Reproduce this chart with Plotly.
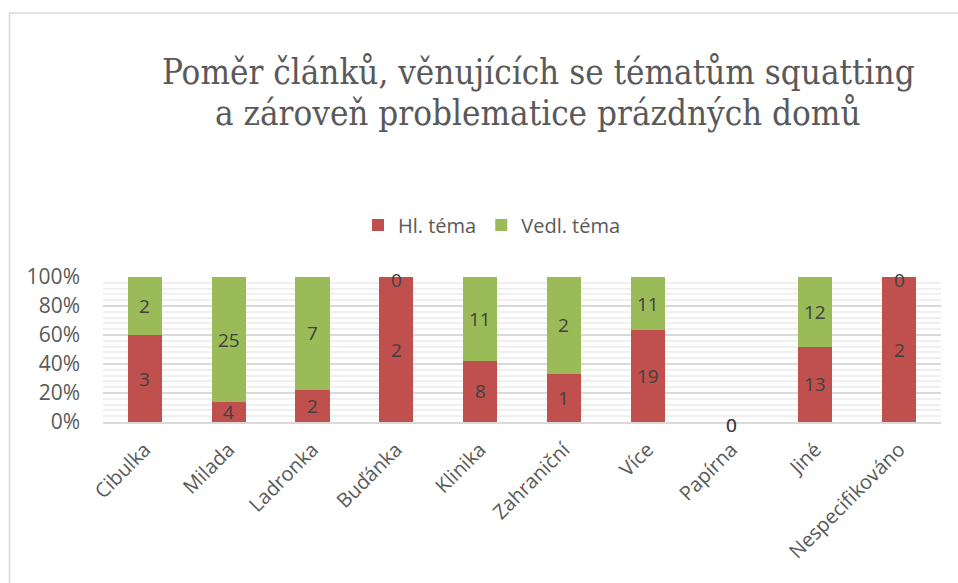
import plotly.graph_objects as go

categories = ["Cibulka", "Milada", "Ladronka", "Buďánka", "Klinika", "Zahraniční",
              "Více", "Papírna", "Jiné", "Nespecifikováno"]
hl_tema = [3, 4, 2, 2, 8, 1, 19, 0, 13, 2]
vedl_tema = [2, 25, 7, 0, 11, 2, 11, 0, 12, 0]
series_names = ["Hl. téma", "Vedl. téma"]
y_ticks = [0, 0.2, 0.4, 0.6, 0.8, 1.0]
y_tick_labels = ["0%", "20%", "40%", "60%", "80%", "100%"]
title_lines = ["Poměr článků, věnujících se tématům squatting",
               "a zároveň problematice prázdných domů"]

totals = [a + b for a, b in zip(hl_tema, vedl_tema)]
hl_share = [a / t if t else 0 for a, t in zip(hl_tema, totals)]
vedl_share = [b / t if t else 0 for b, t in zip(vedl_tema, totals)]

RED = "#C0504D"
GREEN = "#9BBB59"
FONT = "Open Sans"
W, H = 958, 583
L, R, T, B = 103, 17, 277, 161
PW, PH = W - L - R, H - T - B

fig = go.Figure()
for name, share, color in [(series_names[0], hl_share, RED),
                           (series_names[1], vedl_share, GREEN)]:
    fig.add_trace(go.Bar(
        x=categories, y=share, name=name,
        marker=dict(color=color, line=dict(width=0)), hoverinfo="skip",
    ))

# data labels (centered in each segment; zero segments labelled at their position)
cum = [0.0] * len(categories)
for share, counts in [(hl_share, hl_tema), (vedl_share, vedl_tema)]:
    for i, (s, c) in enumerate(zip(share, counts)):
        yy = cum[i] + s / 2
        fig.add_annotation(x=categories[i], y=yy, text=str(c), showarrow=False,
                           yshift=-3 if c == 0 else 0,
                           font=dict(family=FONT, size=19, color="#404040"))
        cum[i] += s

# title, two lines
for line, ypix in zip(title_lines, [72, 113]):
    fig.add_annotation(xref="paper", yref="paper", x=(538 - L) / PW, y=(H - B - ypix) / PH,
                       text=line, showarrow=False, xanchor="center", yanchor="middle",
                       font=dict(family="DejaVu Serif Condensed, Liberation Serif", size=34.7,
                                 color="#595959"))

fig.update_layout(
    width=W, height=H,
    margin=dict(l=L, r=R, t=T, b=B),
    paper_bgcolor="white", plot_bgcolor="white",
    barmode="stack", bargap=0.59,
    legend=dict(orientation="h", x=(492 - L) / PW, xanchor="center",
                y=(H - B - 225) / PH, yanchor="middle",
                font=dict(family=FONT, size=20, color="#595959"), traceorder="normal"),
    showlegend=True,
)
fig.update_xaxes(showline=True, linecolor="#d9d9d9", linewidth=2, ticks="",
                 tickangle=-45, tickfont=dict(family=FONT, size=20, color="#595959"),
                 ticklabelstandoff=6, showgrid=False)
fig.update_yaxes(range=[0, 1], tickvals=y_ticks, ticktext=y_tick_labels,
                 showgrid=True, gridcolor="#d9d9d9", gridwidth=1.5,
                 minor=dict(dtick=0.04, showgrid=True, gridcolor="#f0f0f0", gridwidth=1.5),
                 zeroline=False, ticks="", ticklabelstandoff=22,
                 tickfont=dict(family=FONT, size=21, color="#595959"))

# chart-area border
fig.add_shape(type="rect", xref="paper", yref="paper",
              x0=(9.5 - L) / PW, x1=(965 - L) / PW,
              y0=(H - B - 600) / PH, y1=(H - B - 13) / PH,
              line=dict(color="#d9d9d9", width=1.5), layer="below")

fig.write_html("out.html", config={"displayModeBar": False},
               post_script="document.body.style.margin='0px';")
